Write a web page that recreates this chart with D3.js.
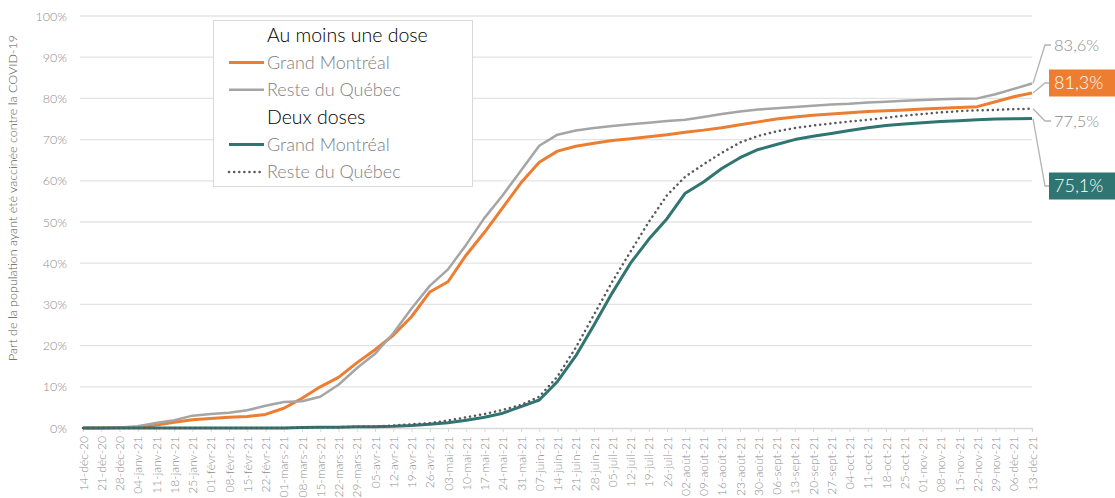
<!DOCTYPE html>
<html>
<head>
<meta charset="utf-8">
<script src="https://cdn.jsdelivr.net/npm/d3@7"></script>
<style>
  body { margin: 0; background: #fff; }
  svg text { font-family: Lato, "Open Sans", sans-serif; font-weight: 300; }
</style>
</head>
<body>
<div id="chart"></div>
<script>
// semaines (lundis) du 14 déc. 2020 au 13 déc. 2021
var weeks = ["14-déc-20","21-déc-20","28-déc-20","04-janv-21","11-janv-21","18-janv-21","25-janv-21",
  "01-févr-21","08-févr-21","15-févr-21","22-févr-21","01-mars-21","08-mars-21","15-mars-21","22-mars-21",
  "29-mars-21","05-avr-21","12-avr-21","19-avr-21","26-avr-21","03-mai-21","10-mai-21","17-mai-21",
  "24-mai-21","31-mai-21","07-juin-21","14-juin-21","21-juin-21","28-juin-21","05-juil-21","12-juil-21",
  "19-juil-21","26-juil-21","02-août-21","09-août-21","16-août-21","23-août-21","30-août-21","06-sept-21",
  "13-sept-21","20-sept-21","27-sept-21","04-oct-21","11-oct-21","18-oct-21","25-oct-21","01-nov-21",
  "08-nov-21","15-nov-21","22-nov-21","29-nov-21","06-déc-21","13-déc-21"];

// % de la population, au moins une dose
var gmOneDose = [0,0,0.1,0.2,0.7,1.4,2.0,2.3,2.6,2.8,3.3,4.8,7.2,10.0,12.3,15.8,19.0,22.5,27.0,33.0,
  35.5,42.0,47.5,53.5,59.5,64.5,67.2,68.4,69.1,69.8,70.2,70.7,71.2,71.8,72.3,72.9,73.6,74.3,75.0,
  75.5,75.9,76.2,76.5,76.8,77.0,77.2,77.4,77.6,77.8,78.0,79.2,80.4,81.3];
var rqOneDose = [0,0,0.1,0.4,1.2,1.9,3.0,3.4,3.7,4.3,5.4,6.3,6.5,7.6,10.5,14.5,18.0,23.0,29.0,34.5,
  38.5,44.5,51.0,56.5,62.5,68.5,71.2,72.2,72.8,73.3,73.7,74.1,74.5,74.8,75.5,76.2,76.8,77.3,77.6,
  77.9,78.2,78.5,78.7,79.0,79.2,79.4,79.6,79.8,79.9,80.0,81.0,82.3,83.6];
// % de la population, deux doses
var gmTwoDoses = [0,0,0,0,0,0,0,0,0,0,0,0,0.1,0.2,0.2,0.3,0.3,0.4,0.6,0.9,1.3,1.9,2.6,3.6,5.2,6.8,
  11.3,17.5,25.0,32.8,40.0,45.8,50.8,57.0,59.7,63.0,65.6,67.6,68.8,70.0,70.8,71.5,72.2,72.9,73.4,
  73.8,74.1,74.4,74.6,74.8,75.0,75.05,75.1];
var rqTwoDoses = [0,0,0,0,0,0,0,0,0,0,0,0,0.1,0.2,0.2,0.3,0.4,0.6,0.9,1.2,1.8,2.6,3.4,4.4,5.6,7.6,
  12.5,19.5,27.5,35.5,42.8,50.0,56.5,61.0,64.0,66.8,69.3,70.9,72.0,72.8,73.4,73.9,74.4,74.8,75.3,
  75.8,76.2,76.6,76.9,77.1,77.2,77.4,77.5];

var yTicks = [0,10,20,30,40,50,60,70,80,90,100];

var series = [
  { name: "Grand Montréal", values: gmOneDose, color: "#ED7D31", width: 3, dash: null },
  { name: "Reste du Québec", values: rqOneDose, color: "#A5A5A5", width: 2.5, dash: null },
  { name: "Grand Montréal", values: gmTwoDoses, color: "#2F7571", width: 3, dash: null },
  { name: "Reste du Québec", values: rqTwoDoses, color: "#595959", width: 2.5, dash: "0.1 5" }
];

var W = 1115, H = 498;
var svg = d3.select("#chart").append("svg").attr("width", W).attr("height", H);

var x = d3.scalePoint().domain(weeks).range([83, 1032]);
var y = d3.scaleLinear().domain([0, 100]).range([428, 16]);
var fmt = function(v) { return v.toFixed(1).replace(".", ",") + "%"; };

// grille
svg.append("g").selectAll("line").data(yTicks.slice(1)).enter().append("line")
  .attr("x1", 80).attr("x2", 1032)
  .attr("y1", function(d) { return y(d); }).attr("y2", function(d) { return y(d); })
  .attr("stroke", "#e3e3e3").attr("stroke-width", 1.3);

// axe Y
var yAxis = svg.append("g").attr("transform", "translate(80,0)")
  .call(d3.axisLeft(y).tickValues(yTicks).tickFormat(function(d) { return d + "%"; }).tickSize(0).tickPadding(13));
yAxis.select(".domain").remove();
yAxis.selectAll("text").attr("fill", "#8c8c8c").style("font-size", "12.5px");

// axe X
var xAxis = svg.append("g").attr("transform", "translate(0,428)")
  .call(d3.axisBottom(x).tickSize(4).tickPadding(4));
xAxis.select(".domain").attr("stroke", "#d9d9d9").attr("stroke-width", 1.3);
xAxis.selectAll(".tick line").attr("stroke", "#d9d9d9");
xAxis.selectAll("text")
  .attr("fill", "#8c8c8c").style("font-size", "12px")
  .attr("text-anchor", "end").attr("dy", "0.35em")
  .attr("transform", "translate(0,3) rotate(-90)").attr("x", -5).attr("y", 0);

// titre Y
svg.append("text")
  .attr("transform", "translate(17,198) rotate(-90)")
  .attr("text-anchor", "middle").attr("fill", "#595959").style("font-size", "12.5px")
  .text("Part de la population ayant été vaccinée contre la COVID-19");

// courbes
var line = d3.line()
  .x(function(d, i) { return x(weeks[i]); })
  .y(function(d) { return y(d); });

svg.append("g").selectAll("path").data(series).enter().append("path")
  .attr("d", function(s) { return line(s.values); })
  .attr("fill", "none")
  .attr("stroke", function(s) { return s.color; })
  .attr("stroke-width", function(s) { return s.width; })
  .attr("stroke-dasharray", function(s) { return s.dash; })
  .attr("stroke-linecap", function(s) { return s.dash ? "round" : "butt"; })
  .attr("stroke-linejoin", "round");

// légende
var lg = svg.append("g");
lg.append("rect").attr("x", 213.5).attr("y", 20.5).attr("width", 259).attr("height", 166)
  .attr("fill", "#fff").attr("stroke", "#d9d9d9");
var legendRows = [
  { text: "Au moins une dose", head: true },
  { text: series[0].name, s: series[0] },
  { text: series[1].name, s: series[1] },
  { text: "Deux doses", head: true },
  { text: series[2].name, s: series[2] },
  { text: series[3].name, s: series[3] }
];
legendRows.forEach(function(r, i) {
  var cy = 35 + i * 27.4;
  lg.append("text").attr("x", 267).attr("y", cy).attr("dy", "0.35em")
    .attr("fill", r.head ? "#000" : "#808080")
    .style("font-size", r.head ? "19.5px" : "18px")
    .text(r.text);
  if (r.s) {
    lg.append("line").attr("x1", 229).attr("x2", 264).attr("y1", cy).attr("y2", cy)
      .attr("stroke", r.s.color).attr("stroke-width", r.s.width)
      .attr("stroke-dasharray", r.s.dash).attr("stroke-linecap", r.s.dash ? "round" : "butt");
  }
});

// étiquettes de fin
var last = weeks.length - 1;
var endLabels = [
  { s: series[1], ly: 45, box: false },
  { s: series[0], ly: 83, box: true },
  { s: series[3], ly: 121, box: false },
  { s: series[2], ly: 186, box: true }
];
endLabels.forEach(function(e) {
  var v = e.s.values[last];
  var x0 = x(weeks[last]), y0 = y(v);
  svg.append("polyline")
    .attr("points", [[x0 + 1, y0], [1045, e.ly], [1051, e.ly]].map(function(p) { return p.join(","); }).join(" "))
    .attr("fill", "none").attr("stroke", "#b3b3b3").attr("stroke-width", 1.3);
  if (e.box) {
    svg.append("rect").attr("x", 1049).attr("y", e.ly - 13.5).attr("width", 66).attr("height", 27)
      .attr("fill", e.s.color);
  }
  svg.append("text").attr("x", 1054).attr("y", e.ly).attr("dy", "0.36em")
    .attr("fill", e.box ? "#fff" : "#8c8c8c")
    .style("font-size", e.box ? "18px" : "16.5px")
    .text(fmt(v));
});
</script>
</body>
</html>
